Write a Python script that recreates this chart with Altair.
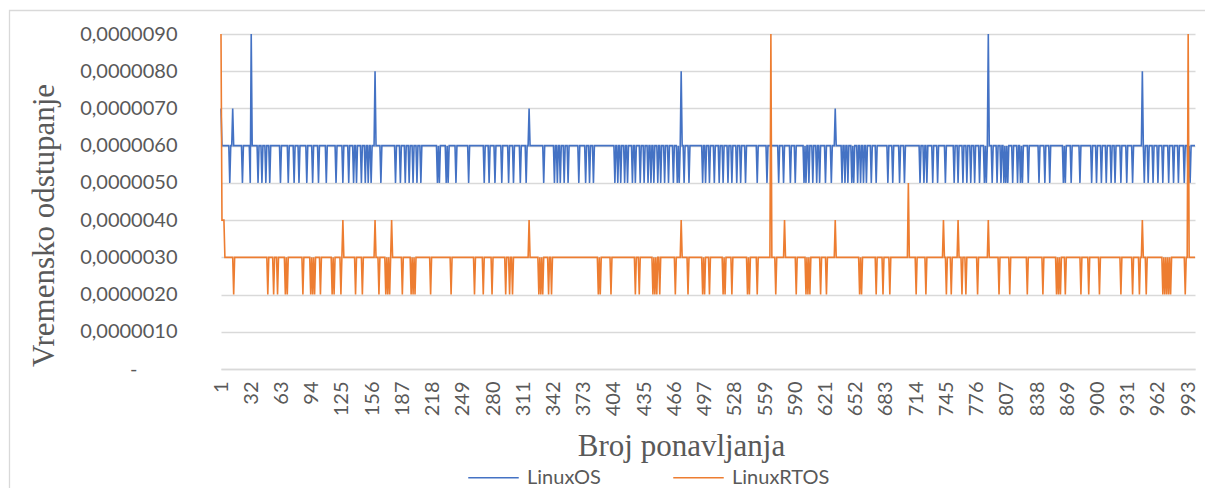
import altair as alt
import pandas as pd

# ---- values (units: seconds) ----
N_POINTS = 1000
SERIES = ["LinuxOS", "LinuxRTOS"]
COLORS = ["#4472C4", "#ED7D31"]

# LinuxOS: sits at 0,0000060 except for the listed points
BLUE_BASE = 0.0000060
BLUE_LOW = 0.0000050
BLUE_DIPS = [10, 23, 31, 39, 43, 47, 51, 62, 70, 76, 81, 89, 95, 101, 109, 119, 126, 132, 137, 140,
             145, 149, 152, 155, 165, 180, 185, 190, 194, 198, 202, 206, 223, 225, 232, 234, 242, 255,
             271, 276, 282, 289, 296, 301, 308, 314, 332, 343, 346, 349, 353, 357, 368, 375, 379, 383,
             405, 408, 411, 415, 418, 423, 426, 431, 435, 439, 442, 445, 449, 452, 456, 460, 465, 469,
             471, 476, 481, 495, 498, 502, 507, 512, 516, 521, 525, 530, 534, 539, 551, 561, 573, 578,
             585, 590, 599, 601, 604, 608, 612, 615, 621, 627, 638, 641, 644, 648, 650, 654, 657, 660,
             663, 668, 673, 685, 690, 697, 702, 718, 722, 725, 731, 736, 744, 753, 757, 762, 766, 770,
             774, 779, 784, 786, 792, 797, 801, 804, 806, 808, 813, 818, 821, 823, 829, 840, 846, 851,
             865, 867, 873, 882, 894, 899, 904, 909, 914, 918, 924, 930, 936, 948, 952, 957, 962, 967,
             973, 978, 983, 989, 993, 995]
BLUE_PEAK_IDX = [1, 13, 32, 159, 317, 473, 631, 788, 946]
BLUE_PEAK_VAL = [0.0000070, 0.0000070, 0.0000090, 0.0000080, 0.0000070, 0.0000080, 0.0000070,
                 0.0000090, 0.0000080]

# LinuxRTOS: sits at 0,0000030 except for the listed points
ORANGE_BASE = 0.0000030
ORANGE_LOW = 0.0000020
ORANGE_DIPS = [14, 49, 55, 59, 67, 69, 85, 93, 95, 97, 103, 115, 117, 124, 139, 146, 163, 170, 172,
               174, 187, 196, 198, 200, 216, 237, 261, 270, 279, 293, 297, 300, 327, 329, 331, 337,
               340, 388, 390, 401, 426, 430, 444, 446, 448, 451, 467, 480, 495, 497, 502, 516, 518,
               525, 541, 543, 551, 570, 591, 601, 603, 605, 616, 622, 656, 658, 673, 680, 687, 714,
               724, 745, 750, 761, 765, 777, 799, 810, 828, 844, 858, 860, 862, 867, 883, 891, 902,
               924, 936, 943, 950, 967, 969, 971, 973, 975, 990]
ORANGE_PEAK_IDX = [1, 2, 3, 4, 126, 159, 176, 317, 473, 565, 579, 631, 706, 742, 757, 788, 946, 993]
ORANGE_PEAK_VAL = [0.0000090, 0.0000040, 0.0000040, 0.0000040, 0.0000040, 0.0000040, 0.0000040,
                   0.0000040, 0.0000040, 0.0000090, 0.0000040, 0.0000040, 0.0000050, 0.0000040,
                   0.0000040, 0.0000040, 0.0000040, 0.0000090]

X_TICKS = [1, 32, 63, 94, 125, 156, 187, 218, 249, 280, 311, 342, 373, 404, 435, 466, 497, 528, 559,
           590, 621, 652, 683, 714, 745, 776, 807, 838, 869, 900, 931, 962, 993]
Y_TICKS = [0.0, 0.0000010, 0.0000020, 0.0000030, 0.0000040, 0.0000050, 0.0000060, 0.0000070,
           0.0000080, 0.0000090]


def build(base, low, dips, peak_idx, peak_val):
    vals = {i: base for i in range(1, N_POINTS + 1)}
    for i in dips:
        vals[i] = low
    for i, v in zip(peak_idx, peak_val):
        vals[i] = v
    return [vals[i] for i in range(1, N_POINTS + 1)]


blue = build(BLUE_BASE, BLUE_LOW, BLUE_DIPS, BLUE_PEAK_IDX, BLUE_PEAK_VAL)
orange = build(ORANGE_BASE, ORANGE_LOW, ORANGE_DIPS, ORANGE_PEAK_IDX, ORANGE_PEAK_VAL)

rows = []
for name, series in zip(SERIES, [blue, orange]):
    for i, v in enumerate(series, start=1):
        rows.append({"idx": i, "value": v, "series": name})
df = pd.DataFrame(rows)

W, H = 974, 335
GRAY = "#595959"
GRID = "#d9d9d9"

lines = alt.Chart(df).mark_line(strokeWidth=1.6).encode(
    x=alt.X("idx:Q",
            scale=alt.Scale(domain=[1, N_POINTS], nice=False, zero=False),
            axis=alt.Axis(values=X_TICKS, format="d", labelAngle=-90, labelFont="Lato",
                          labelFontSize=20, labelColor=GRAY, labelPadding=12, labelOverlap=False,
                          labelFlush=False, ticks=False, domain=True, domainColor=GRID,
                          domainWidth=1.3, grid=False,
                          title="Broj ponavljanja", titleFont="Liberation Serif",
                          titleFontSize=31, titleFontWeight="normal", titleColor=GRAY,
                          titleX=460, titleY=86, titleAlign="center",
                          titleBaseline="alphabetic")),
    y=alt.Y("value:Q",
            scale=alt.Scale(domain=[0, 0.0000090], nice=False),
            axis=alt.Axis(values=Y_TICKS,
                          labelExpr="datum.value == 0 ? '-' : replace(format(datum.value, '.7f'), '.', ',')",
                          labelFont="Lato", labelFontSize=20, labelColor=GRAY,
                          labelPadding={"condition": {"test": "datum.value == 0", "value": 84},
                                        "value": 44},
                          labelOverlap=False, labelFlush=False, ticks=False, domain=False,
                          grid=True, gridColor=GRID, gridWidth=1.3,
                          title="Vremensko odstupanje", titleFont="Liberation Serif",
                          titleFontSize=31, titleFontWeight="normal", titleColor=GRAY,
                          titleX=-168, titleY=191, titleAlign="center",
                          titleBaseline="alphabetic")),
    color=alt.Color("series:N",
                    scale=alt.Scale(domain=SERIES, range=COLORS),
                    legend=alt.Legend(title=None, orient="none", legendX=246, legendY=417,
                                      direction="horizontal", symbolType="stroke",
                                      symbolSize=2550, symbolStrokeWidth=1.6,
                                      labelFont="Lato", labelFontSize=20, labelColor=GRAY,
                                      labelOffset=7, columnPadding=69, padding=0)),
    order=alt.Order("idx:Q"),
)

frame = alt.Chart(pd.DataFrame({"f": [0]})).mark_rect(
    fillOpacity=0, stroke=GRID, strokeWidth=1.3
).encode(
    x=alt.value(-211.5), x2=alt.value(W + 60), y=alt.value(-23.5), y2=alt.value(H + 300)
)

chart = alt.layer(frame, lines).properties(
    width=W, height=H,
    padding={"left": 213, "top": 26, "right": 10, "bottom": 119},
    autosize=alt.AutoSizeParams(type="none"),
).configure_view(stroke=None)

chart.save("out.html", embed_options={"renderer": "svg", "actions": False})
